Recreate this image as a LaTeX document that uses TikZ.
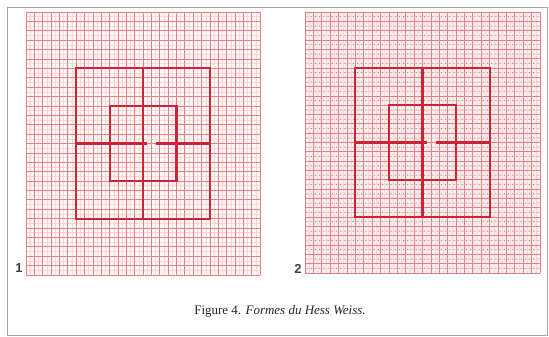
\documentclass[tikz,border=0pt]{standalone}
\usepackage{fontspec}
\setmainfont{Liberation Serif}
\setsansfont{Liberation Sans}
\definecolor{gridcoarse}{RGB}{226,130,135}
\definecolor{gridfine}{RGB}{250,215,216}
\definecolor{structred}{RGB}{205,35,55}
\definecolor{framegray}{RGB}{165,165,165}
\definecolor{dotgray}{RGB}{140,120,120}
\definecolor{bgpinkA}{RGB}{254,245,245}
\definecolor{bgpinkB}{RGB}{252,236,236}
\tikzset{
  gridc/.style={draw=gridcoarse, line width=0.7pt},
  gridf/.style={draw=gridfine, line width=0.45pt},
  structline/.style={draw=structred, line width=2.1pt},
  tinymark/.style={fill=gray!70, draw=none},
  numlabel/.style={font=\sffamily\bfseries\fontsize{13}{13}\selectfont, text=black!75, inner sep=0pt},
  captionlabel/.style={font=\fontsize{13}{13}\selectfont, text=black!85, inner sep=0pt}
}
\begin{document}
\begin{tikzpicture}[x=1pt,y=-1pt]
\useasboundingbox (0,0) rectangle (549,337);
\fill[white] (0,0) rectangle (549,337);
\draw[framegray, line width=1.6pt] (7.5,7.5) rectangle (547.5,335.5);

% Grid 1
\begin{scope}[shift={(26,12)}, x=8.36pt, y=-9.39pt]
  \fill[bgpinkA] (0,0) rectangle (28,28);
  \foreach \i in {0,...,27} {
    \draw[gridf] (\i+0.5,0) -- (\i+0.5,28);
    \draw[gridf] (0,\i+0.5) -- (28,\i+0.5);
  }
  \foreach \i in {0,...,28} {
    \draw[gridc] (\i,0) -- (\i,28);
    \draw[gridc] (0,\i) -- (28,\i);
  }
  \draw[structline] (6,6) rectangle (22,22);
  \draw[structline] (10,10) rectangle (18,18);
  \draw[structline] (14,6) -- (14,22);
  \draw[structline] (6,14) -- (14.5,14);
  \draw[structline] (15.6,14) -- (22,14);
  \foreach \p in {(5,5),(23,5),(5,14),(15.05,14),(23,14),(5,23),(23,23)}
    \fill[tinymark] \p circle (0.9pt);
\end{scope}

% Grid 2
\begin{scope}[shift={(305,12)}, x=8.39pt, y=-9.32pt]
  \fill[bgpinkB] (0,0) rectangle (28,28);
  \foreach \i in {0,...,27} {
    \draw[gridf] (\i+0.5,0) -- (\i+0.5,28);
    \draw[gridf] (0,\i+0.5) -- (28,\i+0.5);
  }
  \foreach \i in {0,...,28} {
    \draw[gridc] (\i,0) -- (\i,28);
    \draw[gridc] (0,\i) -- (28,\i);
  }
  \foreach \i in {0,...,27} {
    \foreach \j in {0,...,27} {
      \fill[dotgray] (\i+0.25,\j+0.5) circle (0.5pt);
      \fill[dotgray] (\i+0.75,\j+0.5) circle (0.5pt);
    }
  }
  \draw[structline] (6,6) rectangle (22,22);
  \draw[structline] (10,10) rectangle (18,18);
  \draw[structline] (14,6) -- (14,22);
  \draw[structline] (6,14) -- (14.5,14);
  \draw[structline] (15.6,14) -- (22,14);
  \foreach \p in {(5,5),(23,5),(5,14),(15.05,14),(23,14),(5,23),(23,23)}
    \fill[tinymark] \p circle (0.9pt);
\end{scope}

\node[numlabel] (n1) at (19,268) {1};
\node[numlabel] (n2) at (298,269) {2};
\node[captionlabel] (cap) at (280,311) {Figure 4. \textit{Formes du Hess Weiss.}};
\end{tikzpicture}
\end{document}
